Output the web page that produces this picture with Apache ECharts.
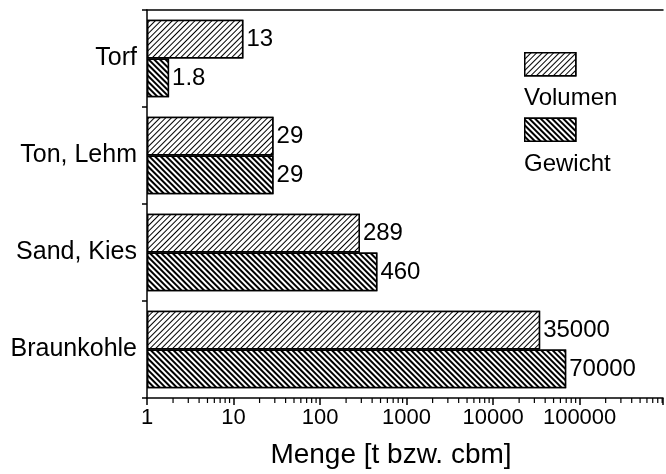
<!DOCTYPE html>
<html>
<head>
<meta charset="utf-8">
<script src="https://cdn.jsdelivr.net/npm/echarts@6/dist/echarts.min.js"></script>
<style>html,body{margin:0;padding:0;background:#fff}#c{width:666px;height:474px}</style>
</head>
<body>
<div id="c"></div>
<script>
var categories = ['Torf', 'Ton, Lehm', 'Sand, Kies', 'Braunkohle'];
var volumen = [13, 29, 289, 35000];
var gewicht = [1.8, 29, 460, 70000];
var seriesNames = ['Volumen', 'Gewicht'];
var tickLabels = ['1', '10', '100', '1000', '10000', '100000'];
var decades = [1, 10, 100, 1000, 10000, 100000];
var minorSteps = [2, 3, 4, 5, 6, 7, 8, 9];
var axisTitle = 'Menge [t bzw. cbm]';

var FONT = 'Liberation Sans';
var minorData = [];
decades.forEach(function (d) { minorSteps.forEach(function (m) { minorData.push([m * d, categories[0]]); }); });

var decalVol = { symbol: 'rect', symbolSize: 1, dashArrayX: [1, 0], dashArrayY: [1, 2.6], rotation: -Math.PI / 4, color: '#000', backgroundColor: '#fff' };
var decalGew = { symbol: 'rect', symbolSize: 1, dashArrayX: [1, 0], dashArrayY: [1.8, 1.8], rotation: Math.PI / 4, color: '#000', backgroundColor: '#fff' };

var chart = echarts.init(document.getElementById('c'), null, { renderer: 'canvas' });
chart.setOption({
  animation: false,
  backgroundColor: '#fff',
  textStyle: { fontFamily: FONT, color: '#000' },
  grid: { left: 147, right: 0, top: 10, bottom: 74, containLabel: false },
  legend: {
    orient: 'vertical', left: 519, top: 47, itemWidth: 51, itemHeight: 23, itemGap: 41,
    data: [
      { name: 'Volumen', itemStyle: { color: '#fff', borderColor: '#000', borderWidth: 1.5, decal: decalVol } },
      { name: 'Gewicht', itemStyle: { color: '#fff', borderColor: '#000', borderWidth: 1.5, decal: decalGew } }
    ],
    formatter: function () { return ''; },
    icon: 'rect', selectedMode: false
  },
  graphic: [
    { type: 'text', left: 524, top: 86, style: { text: seriesNames[0], font: '24px "' + FONT + '"', fill: '#000' } },
    { type: 'text', left: 524, top: 152, style: { text: seriesNames[1], font: '24px "' + FONT + '"', fill: '#000' } }
  ],
  xAxis: [{
    type: 'log', logBase: 10, min: 1, max: 920000,
    axisLine: { show: true, lineStyle: { color: '#000', width: 1.5 } },
    axisTick: { show: true, length: 7, lineStyle: { color: '#000', width: 1.5 } },
    axisLabel: {
      fontSize: 22, color: '#000', fontFamily: FONT, margin: 9,
      formatter: function (v) { var i = decades.indexOf(Math.round(v)); return (i >= 0 && Math.abs(v - decades[i]) < 1e-6 * v) ? tickLabels[i] : ''; }
    },
    splitLine: { show: false },
    name: axisTitle, nameLocation: 'middle', nameGap: 43,
    nameTextStyle: { fontSize: 28, color: '#000', fontFamily: FONT, padding: [0, 28, 0, 0] }
  }, {
    type: 'value', position: 'top', min: 0, max: 1,
    axisLine: { show: true, lineStyle: { color: '#000', width: 1.5 } },
    axisTick: { show: false }, axisLabel: { show: false }, splitLine: { show: false }
  }],
  yAxis: {
    type: 'category', data: categories, inverse: true,
    axisLine: { show: true, lineStyle: { color: '#000', width: 1.5 } },
    axisTick: { show: true, length: 5, lineStyle: { color: '#000', width: 1.5 } },
    axisLabel: { fontSize: 25, color: '#000', fontFamily: FONT, margin: 10 },
    splitLine: { show: false }
  },
  series: [
    {
      name: seriesNames[0], type: 'bar', data: volumen, barGap: '0%', barCategoryGap: '20%',
      itemStyle: { color: '#fff', borderColor: '#000', borderWidth: 1.5, decal: decalVol },
      label: { show: true, position: 'right', distance: 3, fontSize: 24, color: '#000', fontFamily: FONT }
    },
    {
      name: seriesNames[1], type: 'bar', data: gewicht, barGap: '0%', barCategoryGap: '20%',
      itemStyle: { color: '#fff', borderColor: '#000', borderWidth: 1.5, decal: decalGew },
      label: { show: true, position: 'right', distance: 3, fontSize: 24, color: '#000', fontFamily: FONT }
    },
    {
      type: 'custom', silent: true, clip: false, data: minorData, encode: { x: 0, y: 1 },
      renderItem: function (params, api) {
        var p = api.coord([api.value(0), categories[0]]);
        var cs = params.coordSys;
        var y0 = cs.y + cs.height;
        return { type: 'line', shape: { x1: p[0], y1: y0, x2: p[0], y2: y0 + 5 }, style: { stroke: '#000', lineWidth: 1.2 } };
      }
    }
  ]
});
</script>
</body>
</html>
